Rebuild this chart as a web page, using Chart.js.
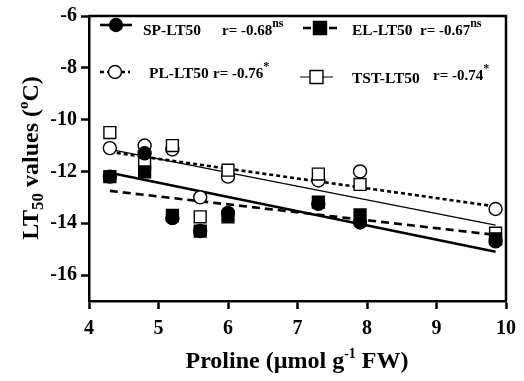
<!DOCTYPE html>
<html>
<head>
<meta charset="utf-8">
<script src="https://cdn.jsdelivr.net/npm/chart.js@4.4.1/dist/chart.umd.min.js"></script>
<style>
  body { margin: 0; background: #fff; }
  .chart-wrap { width: 524px; height: 381px; position: relative; }
</style>
</head>
<body>
<div class="chart-wrap"><canvas id="prolineChart"></canvas></div>
<script>
  // values
  const proline  = [4.3, 4.8, 5.2, 5.6, 6.0, 7.3, 7.9, 9.85];
  const spLT50   = [-12.2, -11.3, -13.8, -14.3, -13.6, -13.25, -13.97, -14.7];
  const elLT50   = [-12.2, -12.02, -13.7, -14.3, -13.75, -13.18, -13.68, -14.6];
  const plLT50   = [-11.1, -11.0, -11.15, -13.0, -12.2, -12.35, -12.0, -13.45];
  const tstLT50  = [-10.5, -11.7, -11.0, -13.75, -11.95, -12.1, -12.5, -14.38];
  // regression line end points
  const fitX     = [4.3, 9.85];
  const spFit    = [-12.05, -15.1];
  const elFit    = [-12.75, -14.45];
  const plFit    = [-11.25, -13.35];
  const tstFit   = [-11.15, -14.07];
  const yTicks   = [-16, -14, -12, -10, -8, -6];
  const seriesNames = ['SP-LT50', 'EL-LT50', 'PL-LT50', 'TST-LT50'];
  const rValues  = ['-0.68', '-0.67', '-0.76', '-0.74'];
  const rSig     = ['ns', 'ns', '*', '*'];

  const SERIF = '"Liberation Serif", "Times New Roman", serif';
  const pts = (xs, ys) => xs.map((x, i) => ({ x: x, y: ys[i] }));

  const styles = [
    { shape: 'circle', r: 6.5, fill: '#000', dash: [], lw: 2.6 },
    { shape: 'rect', r: 8.4, fill: '#000', dash: [8, 5], lw: 2.6 },
    { shape: 'circle', r: 6.5, fill: '#fff', dash: [4, 3], lw: 2.6 },
    { shape: 'rect', r: 8.4, fill: '#fff', dash: [], lw: 1.2 }
  ];

  function pointSet(ys, st, order) {
    return {
      data: pts(proline, ys), showLine: false, order: order,
      pointStyle: st.shape, pointRadius: st.r, pointHoverRadius: st.r,
      pointBackgroundColor: st.fill, pointBorderColor: '#000', pointBorderWidth: 1.4
    };
  }
  function fitSet(ys, st) {
    return {
      data: pts(fitX, ys), showLine: true, pointRadius: 0, order: 10,
      borderColor: '#000', borderWidth: st.lw, borderDash: st.dash, fill: false
    };
  }

  // rich text: parts = [text, size, dy]
  function textWidth(ctx, parts) {
    let w = 0;
    parts.forEach(p => { ctx.font = 'bold ' + p[1] + 'px ' + SERIF; w += ctx.measureText(p[0]).width; });
    return w;
  }
  function richText(ctx, parts, x, y) {
    let cx = x;
    parts.forEach(p => {
      ctx.font = 'bold ' + p[1] + 'px ' + SERIF;
      ctx.fillText(p[0], cx, y + (p[2] || 0));
      cx += ctx.measureText(p[0]).width;
    });
  }

  const extras = {
    id: 'extras',
    afterDraw(chart) {
      const ctx = chart.ctx, a = chart.chartArea;
      ctx.save();
      // frame top + right
      ctx.strokeStyle = '#000';
      ctx.lineWidth = 2.5;
      ctx.beginPath();
      ctx.moveTo(a.left, a.top);
      ctx.lineTo(a.right, a.top);
      ctx.lineTo(a.right, a.bottom);
      ctx.stroke();

      ctx.fillStyle = '#000';
      ctx.textBaseline = 'alphabetic';
      ctx.textAlign = 'left';

      // legend
      const rows = [
        { sx: 100, ex: 132, y: 25, ty: 35, nx: 143, rx: 222 },
        { sx: 303, ex: 337, y: 28, ty: 35, nx: 352, rx: 420 },
        { sx: 100, ex: 130, y: 72, ty: 78, nx: 149, rx: 213 },
        { sx: 300, ex: 333, y: 77, ty: 83, nx: 352, rx: 433, rty: 80 }
      ];
      rows.forEach((r, i) => {
        const st = styles[i];
        ctx.strokeStyle = '#000';
        ctx.lineWidth = st.lw;
        ctx.setLineDash(st.dash);
        ctx.beginPath();
        ctx.moveTo(r.sx, r.y);
        ctx.lineTo(r.ex, r.y);
        ctx.stroke();
        ctx.setLineDash([]);
        const mx = (r.sx + r.ex) / 2;
        ctx.lineWidth = 1.4;
        ctx.fillStyle = st.fill;
        ctx.beginPath();
        if (st.shape === 'circle') ctx.arc(mx, r.y, 6.5, 0, Math.PI * 2);
        else ctx.rect(mx - 6.5, r.y - 6.5, 13, 13);
        ctx.fill();
        ctx.stroke();
        ctx.fillStyle = '#000';
        richText(ctx, [[seriesNames[i], 15.5]], r.nx, r.ty);
        richText(ctx, [['r= ' + rValues[i], 15], [rSig[i], 12, -8]], r.rx, r.rty || r.ty);
      });

      // x title
      const xParts = [['Proline (\u00b5mol g', 24], ['-1', 14, -10], [' FW)', 24]];
      richText(ctx, xParts, 297 - textWidth(ctx, xParts) / 2, 368);

      // y title
      ctx.translate(38, 158);
      ctx.rotate(-Math.PI / 2);
      const yParts = [['LT', 24], ['50', 17, 5], [' values (', 24], ['o', 15, -10], ['C)', 24]];
      richText(ctx, yParts, -textWidth(ctx, yParts) / 2, 0);
      ctx.restore();
    }
  };

  const tickFont = { family: SERIF, size: 20, weight: 'bold' };

  new Chart(document.getElementById('prolineChart'), {
    type: 'scatter',
    data: {
      datasets: [
        fitSet(spFit, styles[0]),
        fitSet(elFit, styles[1]),
        fitSet(plFit, styles[2]),
        fitSet(tstFit, styles[3]),
        pointSet(plLT50, styles[2], 5),
        pointSet(tstLT50, styles[3], 4),
        pointSet(spLT50, styles[0], 3),
        pointSet(elLT50, styles[1], 2)
      ]
    },
    options: {
      responsive: true,
      maintainAspectRatio: false,
      animation: false,
      layout: { padding: { top: 14, right: 16, left: 0, bottom: 0 } },
      plugins: { legend: { display: false }, tooltip: { enabled: false } },
      scales: {
        x: {
          min: 4, max: 10,
          ticks: { stepSize: 1, color: '#000', font: tickFont, padding: 8, maxRotation: 0 },
          grid: { drawOnChartArea: false, drawTicks: true, tickLength: 8, tickWidth: 2.5, tickColor: '#000' },
          border: { display: true, color: '#000', width: 2.5 },
          afterFit(s) { s.height = 80; }
        },
        y: {
          min: -17, max: -6,
          afterBuildTicks(s) { s.ticks = yTicks.map(v => ({ value: v })); },
          ticks: { color: '#000', font: tickFont, padding: 4 },
          grid: { drawOnChartArea: false, drawTicks: true, tickLength: 8, tickWidth: 2.5, tickColor: '#000' },
          border: { display: true, color: '#000', width: 2.5 },
          afterFit(s) { s.width = 89; }
        }
      }
    },
    plugins: [extras]
  });
</script>
</body>
</html>
